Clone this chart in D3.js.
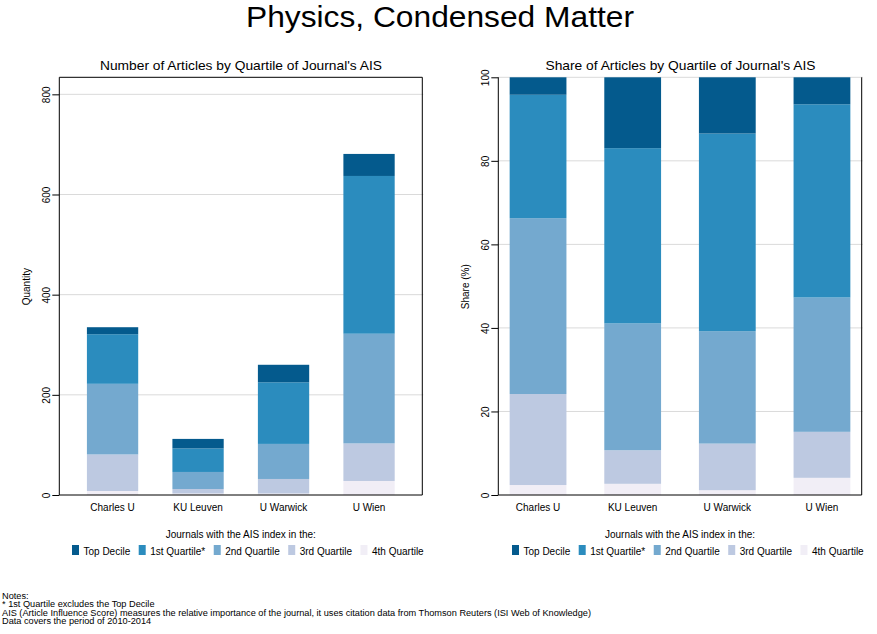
<!DOCTYPE html>
<html><head><meta charset="utf-8">
<script src="https://cdn.jsdelivr.net/npm/d3@7"></script>
<style>
body{margin:0;background:#fff;}
svg{font-family:"Liberation Sans",Arial,sans-serif;display:block;}
</style></head>
<body><svg id="c" width="877" height="634"></svg>
<script>
const categories = ["Charles U","KU Leuven","U Warwick","U Wien"];
const seriesNames = ["Top Decile","1st Quartile*","2nd Quartile","3rd Quartile","4th Quartile"];
const seriesColors = ["#045a8d","#2b8cbe","#74a9cf","#bdc9e1","#f1eef6"];
// article counts per quartile (bottom to top in stack: 4th, 3rd, 2nd, 1st, Top)
const q4th = [8, 3, 3, 28];
const q3rd = [73, 9, 29, 75];
const q2nd = [141, 34, 70, 219];
const q1st = [99, 47, 123, 315];
const qTop = [14, 19, 35, 44];
const countTicks = [0, 200, 400, 600, 800];
const shareTicks = [0, 20, 40, 60, 80, 100];
const notes = ["Notes:",
  "* 1st Quartile excludes the Top Decile",
  "AIS (Article Influence Score) measures the relative importance of the journal, it uses citation data from Thomson Reuters (ISI Web of Knowledge)",
  "Data covers the period of 2010-2014"];

const stackKeys = ["q4","q3","q2","q1","qt"];
const keyName = {qt:"Top Decile",q1:"1st Quartile*",q2:"2nd Quartile",q3:"3rd Quartile",q4:"4th Quartile"};
const colorOf = k => seriesColors[seriesNames.indexOf(keyName[k])];

const rows = categories.map((c,i)=>({cat:c,q4:q4th[i],q3:q3rd[i],q2:q2nd[i],q1:q1st[i],qt:qTop[i]}));
const shareRows = rows.map(r=>{const t=stackKeys.reduce((s,k)=>s+r[k],0);const o={cat:r.cat};stackKeys.forEach(k=>o[k]=r[k]/t*100);return o;});

const svg = d3.select("#c");
svg.append("text").attr("x",440).attr("y",27).attr("text-anchor","middle").attr("font-size",29)
  .attr("textLength",388).attr("lengthAdjust","spacingAndGlyphs").attr("fill","#000").text("Physics, Condensed Matter");

function panel(opt){
  const g = svg.append("g");
  const x = d3.scaleBand().domain(categories).range([opt.x0,opt.x1]).paddingInner(0.4).paddingOuter(opt.po);
  const y = d3.scaleLinear().domain([0,opt.ymax]).range([495,77.3]);
  // grid
  g.append("g").selectAll("line").data(opt.ticks.filter(t=>t>0)).join("line")
    .attr("x1",opt.x0).attr("x2",opt.x1+1).attr("y1",d=>y(d)).attr("y2",d=>y(d))
    .attr("stroke","#dadada").attr("stroke-width",1);
  // bars
  const stack = d3.stack().keys(stackKeys)(opt.data);
  g.append("g").selectAll("g").data(stack).join("g").attr("fill",d=>colorOf(d.key))
    .selectAll("rect").data(d=>d).join("rect")
    .attr("x",d=>x(d.data.cat)).attr("width",x.bandwidth())
    .attr("y",d=>y(d[1])).attr("height",d=>y(d[0])-y(d[1]));
  // frame
  g.append("line").attr("x1",opt.x0).attr("x2",opt.x0).attr("y1",77.3).attr("y2",495).attr("stroke","#000");
  g.append("line").attr("x1",opt.x1).attr("x2",opt.x1).attr("y1",77.3).attr("y2",495).attr("stroke","#000");
  if(opt.top) g.append("line").attr("x1",opt.x0).attr("x2",opt.x1).attr("y1",77.3).attr("y2",77.3).attr("stroke","#000");
  // y axis
  const ya = d3.axisLeft(y).tickValues(opt.ticks).tickSize(7).tickPadding(0).tickFormat(d3.format("d"));
  const yg = g.append("g").attr("transform",`translate(${opt.x0},0)`).call(ya);
  yg.select(".domain").remove();
  yg.selectAll(".tick line").attr("stroke","#000");
  yg.selectAll(".tick text").attr("font-size",10).attr("fill","#000").attr("font-family","Liberation Sans, Arial, sans-serif")
    .attr("transform","rotate(-90)").attr("x",0).attr("y",-opt.labOff).attr("dy",0).attr("text-anchor","middle");
  // x axis
  const xa = d3.axisBottom(x).tickSize(0).tickPadding(0);
  const xg = g.append("g").attr("transform","translate(0,495)").call(xa);
  xg.select(".domain").attr("stroke","#000").attr("d",`M${opt.x0},0H${opt.x1}`);
  xg.selectAll(".tick text").attr("font-size",10).attr("fill","#000").attr("font-family","Liberation Sans, Arial, sans-serif").attr("y",16).attr("dy",0);
  // titles
  g.append("text").attr("x",opt.titleX).attr("y",70).attr("text-anchor","middle").attr("font-size",13)
    .attr("textLength",opt.titleLen).attr("lengthAdjust","spacingAndGlyphs").text(opt.title);
  g.append("text").attr("transform",`translate(${opt.ytX},286.7) rotate(-90)`).attr("text-anchor","middle").attr("font-size",10).text(opt.ytitle);
  // legend
  const cx = (opt.x0+opt.x1)/2;
  g.append("text").attr("x",cx).attr("y",538).attr("text-anchor","middle").attr("font-size",10).text("Journals with the AIS index in the:");
  const lg = g.append("g");
  let pos = 0;
  seriesNames.forEach((n,i)=>{
    const it = lg.append("g").attr("transform",`translate(${pos},0)`);
    it.append("rect").attr("x",0).attr("y",545).attr("width",7).attr("height",10).attr("fill",seriesColors[i]);
    const t = it.append("text").attr("x",11.5).attr("y",555).attr("font-size",10).text(n);
    pos += 11.5 + t.node().getComputedTextLength() + 8.5;
  });
  pos -= 8.5;
  lg.attr("transform",`translate(${opt.legStart},0)`);
}

panel({x0:59.3,x1:422.3,po:0.323,ymax:834,ticks:countTicks,data:rows,top:true,titleX:241,titleLen:282,legStart:72,
  title:"Number of Articles by Quartile of Journal's AIS",ytitle:"Quantity",ytX:29.5,labOff:9});
panel({x0:498.3,x1:861.7,po:0.12,ymax:100,ticks:shareTicks,data:shareRows,top:false,titleX:680.5,titleLen:270,legStart:512,
  title:"Share of Articles by Quartile of Journal's AIS",ytitle:"Share (%)",ytX:469,labOff:9});

svg.append("g").selectAll("text").data(notes).join("text")
  .attr("x",2).attr("y",(d,i)=>598.5+i*8.5).attr("font-size",9.2).text(d=>d);
</script></body></html>
